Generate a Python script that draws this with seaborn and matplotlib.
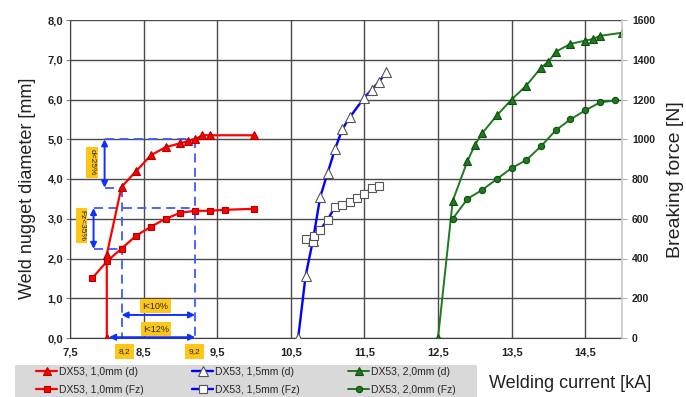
import matplotlib
matplotlib.use("Agg")
import matplotlib.pyplot as plt
import matplotlib.patches as mpatches
import seaborn as sns
import pandas as pd
from matplotlib.ticker import FuncFormatter, FixedLocator

# ---------------- data ----------------
red_d_x = [8.0, 8.0, 8.2, 8.4, 8.6, 8.8, 9.0, 9.1, 9.2, 9.3, 9.4, 10.0]
red_d_y = [0.0, 2.1, 3.8, 4.2, 4.6, 4.8, 4.9, 4.95, 5.0, 5.1, 5.1, 5.1]
red_f_x = [7.8, 8.0, 8.2, 8.4, 8.6, 8.8, 9.0, 9.2, 9.4, 9.6, 10.0]
red_f_y = [300, 385, 450, 515, 560, 600, 630, 640, 640, 645, 650]

blue_d_x = [10.6, 10.7, 10.8, 10.9, 11.0, 11.1, 11.2, 11.3, 11.5, 11.6, 11.7, 11.8]
blue_d_y = [0.0, 1.55, 2.45, 3.55, 4.15, 4.75, 5.25, 5.55, 6.05, 6.25, 6.45, 6.7]
blue_f_x = [10.7, 10.8, 10.82, 10.9, 11.0, 11.1, 11.2, 11.3, 11.4, 11.5, 11.6, 11.7]
blue_f_y = [500, 485, 515, 545, 595, 660, 670, 685, 705, 725, 755, 765]

green_d_x = [12.5, 12.7, 12.9, 13.0, 13.1, 13.3, 13.5, 13.7, 13.9, 14.0, 14.1, 14.3, 14.5, 14.6, 14.7, 15.0]
green_d_y = [0.0, 3.45, 4.45, 4.85, 5.15, 5.6, 6.0, 6.35, 6.8, 6.95, 7.2, 7.4, 7.48, 7.52, 7.6, 7.68]
green_f_x = [12.7, 12.9, 13.1, 13.3, 13.5, 13.7, 13.9, 14.1, 14.3, 14.5, 14.7, 14.9]
green_f_y = [600, 700, 745, 800, 855, 895, 965, 1045, 1100, 1145, 1185, 1195]

labels = ["DX53, 1,0mm (d)", "DX53, 1,0mm (Fz)",
          "DX53, 1,5mm (d)", "DX53, 1,5mm (Fz)",
          "DX53, 2,0mm (d)", "DX53, 2,0mm (Fz)"]

x_ticks = [7.5, 8.5, 9.5, 10.5, 11.5, 12.5, 13.5, 14.5]
y_ticks = [0, 1, 2, 3, 4, 5, 6, 7, 8]
f_ticks = [0, 200, 400, 600, 800, 1000, 1200, 1400, 1600]

# ---------------- style ----------------
sns.set_style("white")
plt.rcParams['font.family'] = ['Liberation Sans', 'DejaVu Sans']

RED = "#ff0000"
BLUE = "#0000ff"
GREEN = "#1e7a1e"
DASH = "#3b5bff"
GOLD = "#ffc61a"
GRID = "#4a4a4a"

fig = plt.figure(figsize=(6.86, 3.97), dpi=100)
ax = fig.add_axes([70/686, 1-338/397, 552/686, 318/397])
ax2 = ax.twinx()

def draw(a, xs, ys, color, marker, label, mfc, mec, ms, lw, z=3):
    df = pd.DataFrame({"x": xs, "y": ys})
    sns.lineplot(data=df, x="x", y="y", ax=a, estimator=None, sort=False,
                 color=color, marker=marker, markerfacecolor=mfc,
                 markeredgecolor=mec, markersize=ms, linewidth=lw,
                 label=label, legend=False, zorder=z, markeredgewidth=0.8)

draw(ax, red_d_x, red_d_y, RED, "^", labels[0], RED, "#b00000", 6, 1.6)
draw(ax, blue_d_x, blue_d_y, BLUE, "^", labels[2], "white", "#555555", 6.5, 1.7)
draw(ax, green_d_x, green_d_y, GREEN, "^", labels[4], GREEN, "#0f4f0f", 5.5, 1.4)
draw(ax2, red_f_x, red_f_y, RED, "s", labels[1], RED, "#b00000", 5, 1.6)
draw(ax2, blue_f_x, blue_f_y, BLUE, "s", labels[3], "white", "#555555", 5.5, 1.7)
draw(ax2, green_f_x, green_f_y, GREEN, "o", labels[5], GREEN, "#0f4f0f", 4.5, 1.4)

# ---------------- axes ----------------
ax.set_xlim(7.5, 15.0)
ax.set_ylim(0, 8)
ax2.set_ylim(0, 1600)
ax.set_xlabel("")
ax.set_ylabel("")
ax2.set_ylabel("")

comma = FuncFormatter(lambda v, p: f"{v:.1f}".replace(".", ","))
ax.xaxis.set_major_locator(FixedLocator(x_ticks))
ax.yaxis.set_major_locator(FixedLocator(y_ticks))
ax.xaxis.set_major_formatter(comma)
ax.yaxis.set_major_formatter(comma)
ax2.yaxis.set_major_locator(FixedLocator(f_ticks))
ax2.yaxis.set_major_formatter(FuncFormatter(lambda v, p: f"{int(v)}"))

ax.grid(True, color=GRID, lw=1.0)
ax2.grid(False)
ax.set_axisbelow(True)

ax.spines["top"].set_visible(False)
ax2.spines["top"].set_visible(False)
ax.spines["left"].set_color("#404040")
ax.spines["bottom"].set_color("#404040")
ax.spines["right"].set_visible(False)
ax2.spines["left"].set_visible(False)
ax2.spines["bottom"].set_visible(False)
ax2.spines["right"].set_color("#c8c8c8")
ax2.spines["right"].set_linewidth(1.2)

ax.tick_params(axis="x", length=0, pad=6.5, labelsize=8, labelcolor="#222222")
ax.tick_params(axis="y", left=True, length=3, width=0.8, color="#808080", pad=2,
               labelsize=8, labelcolor="#222222")
ax2.tick_params(axis="y", right=True, length=3.6, width=0.8, color="#b0b0b0", pad=3.6,
                labelsize=7.5, labelcolor="#222222")
for t in ax.get_xticklabels() + ax.get_yticklabels() + ax2.get_yticklabels():
    t.set_fontweight("bold")

# ---------------- annotations ----------------
dash_kw = dict(color=DASH, lw=1.3, ls=(0, (5, 3)), zorder=2)
ax.plot([7.97, 9.2], [5.0, 5.0], **dash_kw)
ax.plot([7.97, 8.2], [3.78, 3.78], **dash_kw)
ax.plot([8.2, 8.2], [3.78, 0.0], **dash_kw)
ax.plot([9.2, 9.2], [5.0, 0.0], **dash_kw)
ax.plot([7.82, 9.2], [3.27, 3.27], **dash_kw)
ax.plot([7.82, 8.2], [2.24, 2.24], **dash_kw)

arr_kw = dict(arrowstyle="<|-|>", color="#1030ff", lw=1.4, mutation_scale=9,
              shrinkA=0, shrinkB=0)
ax.annotate("", xy=(7.97, 5.0), xytext=(7.97, 3.78), arrowprops=arr_kw, zorder=4)
ax.annotate("", xy=(7.82, 3.27), xytext=(7.82, 2.24), arrowprops=arr_kw, zorder=4)
ax.annotate("", xy=(9.2, 0.58), xytext=(8.2, 0.58), arrowprops=arr_kw, zorder=4)
ax.annotate("", xy=(9.2, 0.02), xytext=(8.03, 0.02), arrowprops=arr_kw,
            zorder=4, annotation_clip=False)

box = dict(boxstyle="square,pad=0.25", fc=GOLD, ec="none")
ax.text(7.80, 4.42, "d<25%", rotation=-90, ha="center", va="center",
        fontsize=6, bbox=box, zorder=5)
ax.text(7.66, 2.83, "Fz<35%", rotation=-90, ha="center", va="center",
        fontsize=6, bbox=box, zorder=5)
ax.text(8.66, 0.80, "I<10%", ha="center", va="center", fontsize=6.5,
        bbox=box, zorder=5)
ax.text(8.67, 0.22, "I<12%", ha="center", va="center", fontsize=6.5,
        bbox=box, zorder=5)
box2 = dict(boxstyle="square,pad=0.45", fc=GOLD, ec="none")
ax.text(8.24, -0.34, "8,2", ha="center", va="center", fontsize=6,
        bbox=box2, zorder=5, clip_on=False)
ax.text(9.19, -0.34, "9,2", ha="center", va="center", fontsize=6,
        bbox=box2, zorder=5, clip_on=False)

# ---------------- labels ----------------
fig.text(27/686, 1-188/397, "Weld nugget diameter [mm]", rotation=90,
         ha="center", va="center", fontsize=13, color="#222222")
fig.text(676/686, 1-180/397, "Breaking force [N]", rotation=90,
         ha="center", va="center", fontsize=14, color="#222222")
fig.text(570/686, 1-383/397, "Welding current [kA]", ha="center", va="center",
         fontsize=13, color="#222222")

# ---------------- legend ----------------
fig.patches.append(mpatches.Rectangle((15/686, 0), 462/686, 32/397,
                                      transform=fig.transFigure,
                                      facecolor="#d9d9d9", edgecolor="none",
                                      zorder=0))
h1, _ = ax.get_legend_handles_labels()
h2, _ = ax2.get_legend_handles_labels()
handles = [h1[0], h2[0], h1[1], h2[1], h1[2], h2[2]]
leg = fig.legend(handles, labels, ncol=3, loc="lower left",
                 bbox_to_anchor=(34/686, 0, 424/686, 32/397), mode="expand",
                 borderaxespad=0, frameon=False, fontsize=7.5, handlelength=2.0,
                 handletextpad=0.2, labelspacing=0.75, borderpad=0.2)

fig.savefig("out.png", dpi=100)
